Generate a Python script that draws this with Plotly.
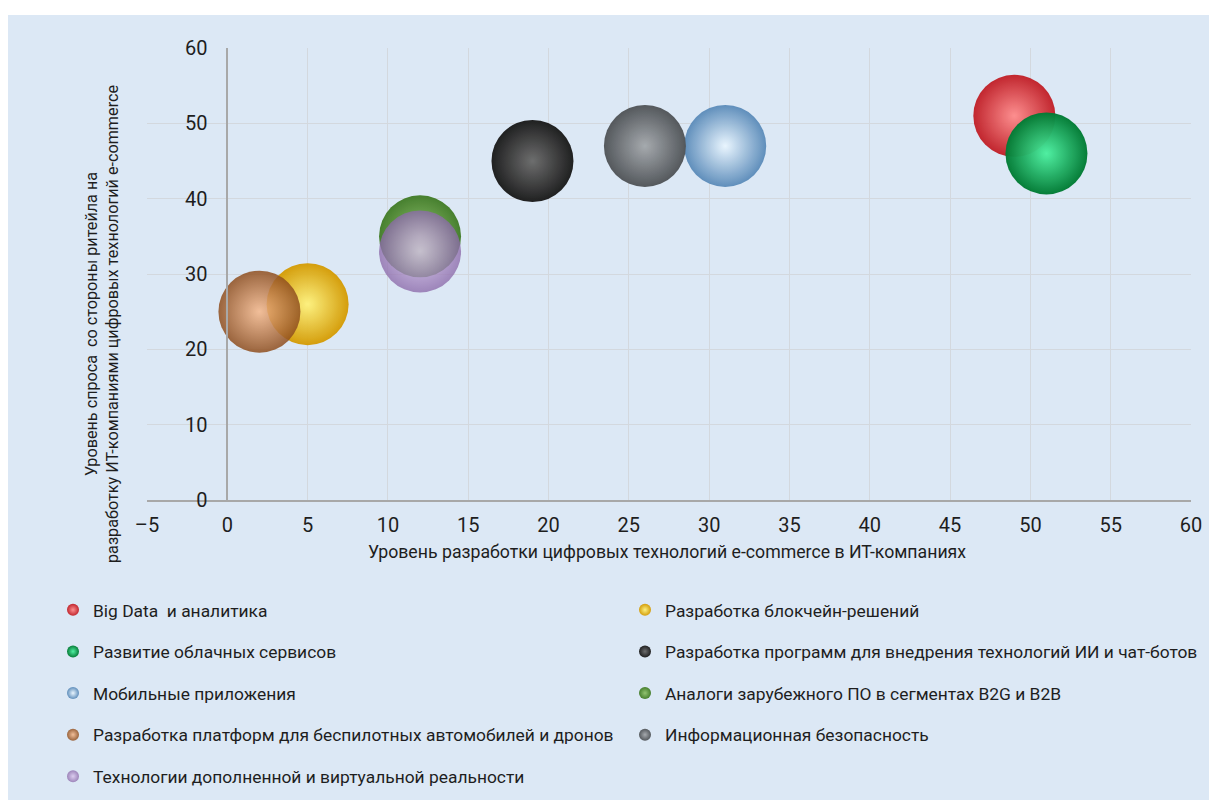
import plotly.graph_objects as go

# ---- data ----
names = [
    "Big Data  и аналитика",
    "Разработка блокчейн-решений",
    "Развитие облачных сервисов",
    "Разработка программ для внедрения технологий ИИ и чат-ботов",
    "Мобильные приложения",
    "Аналоги зарубежного ПО в сегментах B2G и B2B",
    "Разработка платформ для беспилотных автомобилей и дронов",
    "Информационная безопасность",
    "Технологии дополненной и виртуальной реальности",
]
x_dev = [49, 5, 51, 19, 31, 12, 2, 26, 12]
y_demand = [51, 26, 46, 45, 47, 35, 25, 47, 33]
x_ticks = [-5, 0, 5, 10, 15, 20, 25, 30, 35, 40, 45, 50, 55, 60]
y_ticks = [0, 10, 20, 30, 40, 50, 60]

# ---- styles ----
edge_colors = ["#c01c24", "#d49a00", "#007a33", "#1a1a1a", "#5c8cba",
               "#3f7a24", "#8f4e1e", "#505458", "#8c6aaa"]
center_colors = ["#ff8a8a", "#fff27a", "#4cf0a0", "#6a6a6a", "#eaf6ff",
                 "#8ec26a", "#f6b88a", "#a4a8ac", "#dcc6ee"]
opacities = [0.95, 0.95, 0.97, 0.97, 0.97, 0.95, 0.85, 0.97, 0.78]
legend_ids = ["legend", "legend2", "legend", "legend2", "legend",
              "legend2", "legend", "legend2", "legend"]

FONT = "Roboto, Liberation Sans, Arial, sans-serif"

W, H = 1209, 800
L, R, T, B = 147, 18, 48, 300
pw, ph = W - L - R, H - T - B


def px_x(p):
    return (p - L) / pw


def px_y(p):
    return (H - B - p) / ph


fig = go.Figure()
for i, n in enumerate(names):
    fig.add_trace(go.Scatter(
        x=[x_dev[i]], y=[y_demand[i]], mode="markers", name=n,
        legend=legend_ids[i], legendgroup=n,
        opacity=opacities[i],
        marker=dict(size=82, color=edge_colors[i],
                    gradient=dict(type="radial", color=center_colors[i]),
                    line=dict(width=0)),
        hoverinfo="x+y+name",
    ))

legend_common = dict(
    font=dict(family=FONT, size=17.4, color="#1e1e1e"),
    bgcolor="rgba(0,0,0,0)", orientation="v", itemsizing="constant",
    tracegroupgap=16, yanchor="top", xanchor="left",
)

fig.update_layout(
    width=W, height=H,
    margin=dict(l=L, r=R, t=T, b=B, autoexpand=False),
    paper_bgcolor="white",
    plot_bgcolor="rgba(0,0,0,0)",
    font=dict(family=FONT, size=18, color="#1e1e1e"),
    showlegend=True,
    legend=dict(x=px_x(53), y=px_y(592), **legend_common),
    legend2=dict(x=px_x(625), y=px_y(592), **legend_common),
    xaxis=dict(
        range=[-5, 60], tickvals=x_ticks, ticktext=[("–5" if v < 0 else str(v)) for v in x_ticks],
        showgrid=True, gridcolor="#d3d8de", gridwidth=1,
        zeroline=False, showline=True, linecolor="#a8a8a8", linewidth=1.5,
        tickfont=dict(family=FONT, size=20, color="#1e1e1e"),
        ticks="", ticklabelstandoff=6,
    ),
    yaxis=dict(
        range=[0, 60], tickvals=y_ticks,
        showgrid=True, gridcolor="#d3d8de", gridwidth=1,
        zeroline=False, showline=True, linecolor="#a8a8a8", linewidth=1.5,
        anchor="free", position=5 / 65,
        tickfont=dict(family=FONT, size=20, color="#1e1e1e"),
        ticks="", ticklabelstandoff=15,
    ),
    shapes=[dict(type="rect", xref="paper", yref="paper",
                 x0=px_x(8), x1=px_x(W + 5), y0=px_y(H + 5), y1=px_y(15),
                 fillcolor="#dce8f5", line=dict(width=0), layer="below")],
    annotations=[
        dict(text="Уровень разработки цифровых технологий e-commerce в ИТ-компаниях",
             xref="paper", yref="paper", x=px_x(667), y=px_y(552),
             showarrow=False, font=dict(family=FONT, size=17.7, color="#1e1e1e"),
             xanchor="center", yanchor="middle"),
        dict(text="Уровень спроса  со стороны ритейла на<br>разработку ИТ-компаниями цифровых технологий e-commerce",
             xref="paper", yref="paper", x=px_x(102), y=px_y(324),
             showarrow=False, textangle=-90,
             font=dict(family=FONT, size=16.2, color="#1e1e1e"),
             xanchor="center", yanchor="middle"),
    ],
)

fig.write_html("out.html")
